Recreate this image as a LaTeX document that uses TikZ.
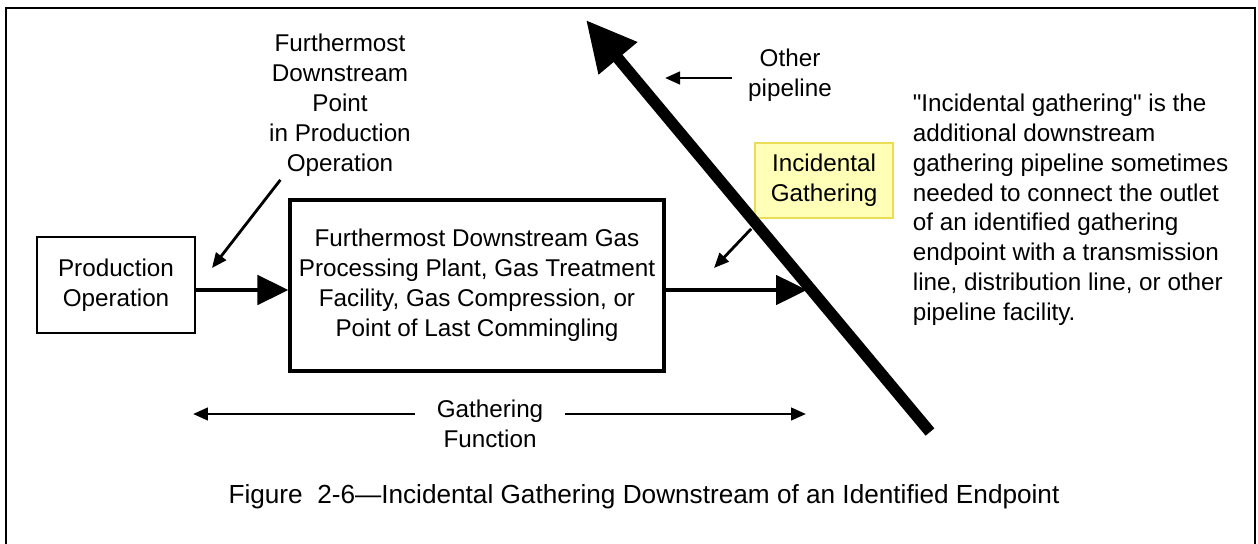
\documentclass[tikz,border=0pt]{standalone}
\usepackage{fontspec}
\setmainfont{Liberation Sans}
\usetikzlibrary{arrows.meta, positioning, calc}
\definecolor{hiYellow}{HTML}{FFFFB8}
\definecolor{hiEdge}{HTML}{EBDD55}

\begin{document}
\begin{tikzpicture}[x=0.02cm, y=-0.02cm,
  txt/.style={font=\fontsize{13.8}{17}\selectfont, align=center, inner sep=2pt},
  box/.style={txt, draw, line width=0.8pt},
  flow/.style={line width=2.8pt, -{Triangle[length=0.62cm, width=0.58cm]}},
  pointer/.style={line width=1.6pt, -{Triangle[length=0.3cm, width=0.25cm]}}]
  \useasboundingbox (0,0) rectangle (1258,544);
  \draw[line width=1pt] (6,560) -- (6,8) -- (1255,8) -- (1255,560);

  \node[box, minimum width=3.16cm, minimum height=1.92cm] (prod) at (116,285) {Production\\Operation};
  \node[box, line width=1.8pt, minimum width=7.48cm, minimum height=3.42cm] (plant) at (477,285.5)
    {Furthermost Downstream Gas\\Processing Plant, Gas Treatment\\Facility, Gas Compression, or\\Point of Last Commingling};
  \node[txt] (fpt) at (340,105) {Furthermost\\Downstream\\Point\\in Production\\Operation};
  \node[txt] (op) at (790,75) {Other\\pipeline};
  \node[box, fill=hiYellow, draw=hiEdge, line width=1pt, minimum width=2.76cm, minimum height=1.5cm]
    (incg) at (824,180.5) {Incidental\\Gathering};
  \node[txt, align=left, anchor=north west] (note) at (909,90)
    {\textquotedbl Incidental gathering\textquotedbl{} is the\\additional downstream\\gathering pipeline sometimes\\needed to connect the outlet\\of an identified gathering\\endpoint with a transmission\\line, distribution line, or other\\pipeline facility.};
  \node[txt] (gf) at (490,424) {Gathering\\Function};
  \node[txt, font=\fontsize{14.9}{18}\selectfont] (cap) at (644,497) {Figure~~2-6—Incidental Gathering Downstream of an Identified Endpoint};

  \coordinate (pipeEnd) at (930,432);
  \coordinate (pipeTip) at (586,20);
  \coordinate (joint) at (807,290);
  \coordinate (fptTip) at (212,268);
  \coordinate (opTip) at (665,78);
  \coordinate (igTip) at (714,268);
  \coordinate (gfLeft) at (193,414);
  \coordinate (gfRight) at (806,414);

  \draw[line width=6.5pt, -{Triangle[length=1cm, width=0.95cm]}] (pipeEnd) -- (pipeTip);
  \draw[flow] (prod.east |- 0,290) -- (plant.west |- 0,290);
  \draw[flow] (plant.east |- joint) -- (joint);
  \draw[pointer] ([shift={(15,0)}]fpt.south west) -- (fptTip);
  \draw[pointer] ([shift={(-12,3)}]op.west) -- (opTip);
  \draw[pointer] ([shift={(-3,10)}]incg.south west) -- (igTip);
  \draw[pointer] ([shift={(-18,-10)}]gf.west) -- (gfLeft);
  \draw[pointer] ([shift={(18,-10)}]gf.east) -- (gfRight);
\end{tikzpicture}
\end{document}
